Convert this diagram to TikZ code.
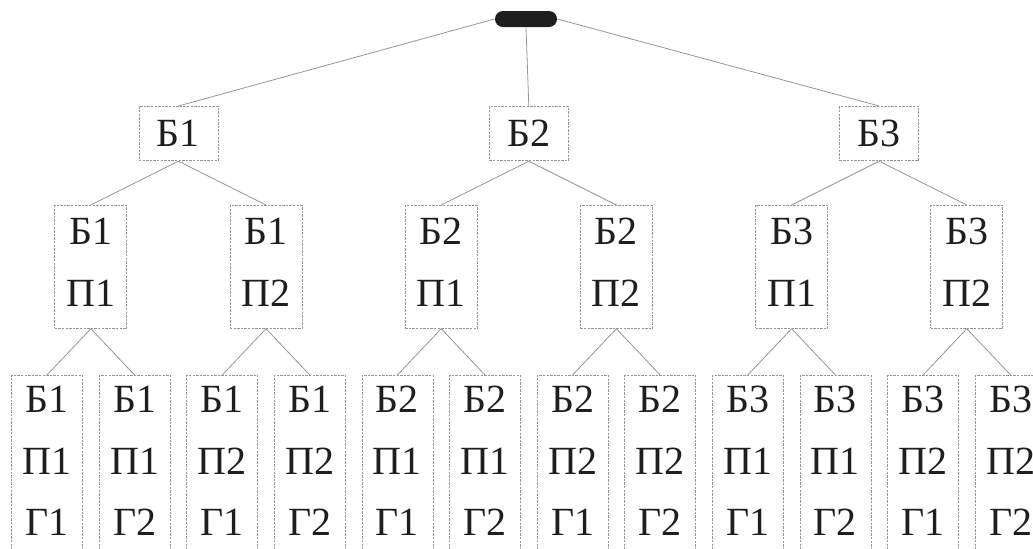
\documentclass[tikz,border=0pt]{standalone}
\usepackage{fontspec}
\setmainfont{Liberation Serif}
\usepackage{xcolor}
\definecolor{ink}{RGB}{30, 30, 30}
\definecolor{wire}{RGB}{150, 150, 150}
\usepackage{tikz}
\usetikzlibrary{positioning}

\tikzset{
  rootnode/.style={fill=ink, rounded corners=4pt, minimum width=31pt,
    minimum height=8pt, inner sep=0pt},
  boxbase/.style={draw=wire, line width=0.4pt, dash pattern=on 1.2pt off 0.6pt,
    text=ink, font=\fontsize{20}{30.75}\selectfont, align=center,
    anchor=north, inner xsep=0pt},
  bank/.style={boxbase, minimum width=39.5pt, inner ysep=7pt,
    text height=13.2pt, text depth=0pt},
  pair/.style={boxbase, minimum width=36pt, inner ysep=6.5pt,
    text height=43.95pt, text depth=4.5pt},
  leaf/.style={boxbase, minimum width=35.5pt, inner ysep=5.5pt,
    text height=74.7pt, text depth=40pt},
  link/.style={draw=wire, line width=0.4pt}
}

\begin{document}
\begin{tikzpicture}[x=0.5pt, y=-0.5pt]
    \useasboundingbox (0,0) rectangle (1033,548);
    \clip (0,0) rectangle (1033,548);
    % root
    \node[rootnode] (root) at (526,19) {};
    % banks
    \foreach \i in {1,2,3} {
      \pgfmathsetmacro{\bx}{178.4+350.4*(\i-1)}
      \node[bank] (b\i) at (\bx,106) {Б\i};
      \foreach \j in {1,2} {
        \pgfmathsetmacro{\px}{90.8+350.4*(\i-1)+175.2*(\j-1)}
        \node[pair] (bp\i\j) at (\px,205) {Б\i\\П\j};
        \draw[link] (b\i.south) -- (bp\i\j.north);
        \foreach \k in {1,2} {
          \pgfmathsetmacro{\gx}{47+87.6*((\i-1)*4+(\j-1)*2+(\k-1))}
          \node[leaf] (bpg\i\j\k) at (\gx,375) {Б\i\\П\j\\Г\k};
          \draw[link] (bp\i\j.south) -- (bpg\i\j\k.north);
        }
      }
    }
    \draw[link] (root.west) -- (b1.north);
    \draw[link] (root.south) -- (b2.north);
    \draw[link] (root.east) -- (b3.north);
  \end{tikzpicture}
\end{document}
